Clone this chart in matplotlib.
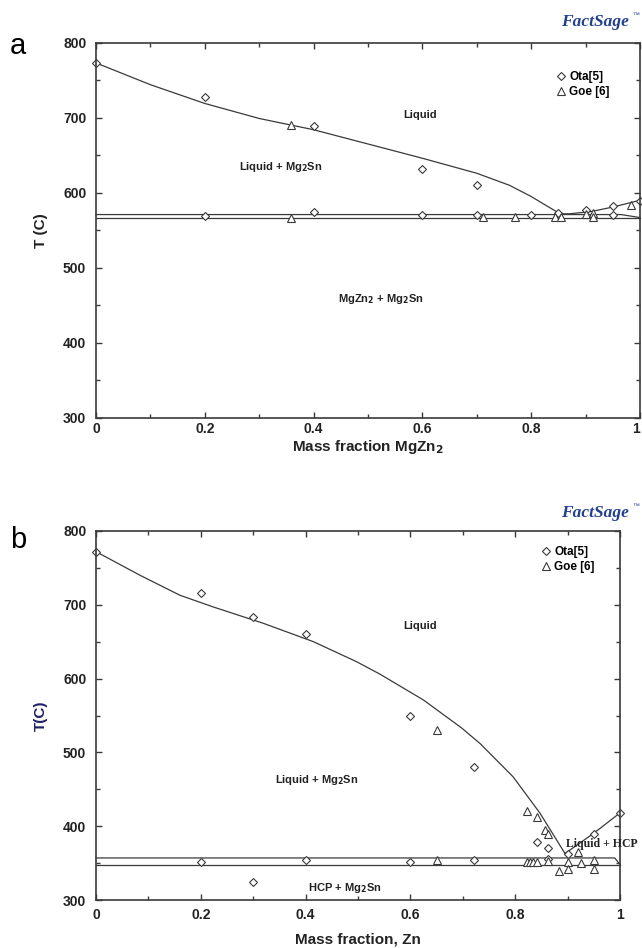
import matplotlib.pyplot as plt
from matplotlib.ticker import MultipleLocator
import numpy as np

# ---- (a) Mg2Sn - MgZn2 section ----
a_liq_left_x = [0, 0.1, 0.2, 0.3, 0.36, 0.4, 0.5, 0.6, 0.7, 0.76, 0.8, 0.853]
a_liq_left_T = [773, 744, 719, 699, 690, 684, 665, 646, 626, 610, 595, 572]
a_liq_right_x = [0.853, 0.87, 0.91, 0.95, 1.0]
a_liq_right_T = [572, 572, 575, 581, 590]
a_sol_upper_x = [0, 0.965, 1.0]
a_sol_upper_T = [571, 571, 567]
a_sol_lower_x = [0, 1.0]
a_sol_lower_T = [567, 567]

a_ota_x = [0, 0.2, 0.4, 0.6, 0.7, 0.849, 0.90, 0.951, 1.0,
           0.2, 0.4, 0.6, 0.701, 0.799, 0.951]
a_ota_T = [773, 727, 689, 632, 611, 573, 577, 583, 589,
           569, 574, 570, 571, 571, 571]
a_goe_x = [0.358, 0.358, 0.711, 0.770, 0.844, 0.854, 0.900, 0.914, 0.914, 0.983]
a_goe_T = [690, 567, 568, 568, 568, 568, 572, 573, 568, 584]

# ---- (b) Mg2Sn - Zn section ----
b_liq_left_x = [0, 0.084, 0.16, 0.224, 0.319, 0.415, 0.497, 0.542, 0.625,
                0.698, 0.733, 0.796, 0.847, 0.889, 0.895]
b_liq_left_T = [772, 740, 713, 697, 675, 650, 623, 606, 571,
                533, 512, 467, 418, 370, 363]
b_liq_right_x = [0.895, 0.949, 1.0]
b_liq_right_T = [363, 390, 418]
b_sol_upper_x = [0, 0.99, 1.0]
b_sol_upper_T = [357, 357, 348]
b_sol_lower_x = [0, 1.0]
b_sol_lower_T = [347, 347]

b_ota_x = [0, 0.2, 0.3, 0.4, 0.6, 0.722, 0.841, 0.862, 0.901, 0.951, 1.0,
           0.2, 0.3, 0.4, 0.6, 0.722, 0.862]
b_ota_T = [772, 716, 684, 661, 550, 480, 378, 370, 362, 389, 418,
           352, 324, 354, 352, 354, 356]
b_goe_x = [0.651, 0.651, 0.822, 0.842, 0.857, 0.863, 0.822, 0.829, 0.834,
           0.841, 0.862, 0.884, 0.901, 0.901, 0.920, 0.926, 0.951, 0.951]
b_goe_T = [531, 354, 420, 413, 395, 390, 351, 352, 351,
           351, 353, 340, 352, 342, 365, 350, 354, 342]

xticks = [0, 0.2, 0.4, 0.6, 0.8, 1]
xtick_labels = ["0", "0.2", "0.4", "0.6", "0.8", "1"]

plt.rcParams['font.family'] = ['Liberation Sans', 'DejaVu Sans']
line_c = '#3a3a3a'
txt_c = '#222222'

fig = plt.figure(figsize=(6.42, 9.48), dpi=100)
ax_a = fig.add_axes([0.1495, 0.5591, 0.8474, 0.3959])
ax_b = fig.add_axes([0.1495, 0.0506, 0.8162, 0.3893])


def style_axes(ax, xpad, ylabel, ylabel_color, xlabel, xlabelpad):
    ax.set_xlim(0, 1)
    ax.set_ylim(300, 800)
    ax.set_xticks(xticks)
    ax.set_xticklabels(xtick_labels)
    ax.xaxis.set_minor_locator(MultipleLocator(0.1))
    ax.yaxis.set_major_locator(MultipleLocator(100))
    ax.yaxis.set_minor_locator(MultipleLocator(50))
    ax.tick_params(which='both', direction='in', top=True, right=True,
                   color=line_c, width=1)
    ax.tick_params(which='major', length=4)
    ax.tick_params(which='minor', length=3)
    ax.tick_params(axis='x', pad=xpad)
    ax.tick_params(axis='y', pad=7)
    for lab in ax.get_xticklabels() + ax.get_yticklabels():
        lab.set_fontsize(10)
        lab.set_fontweight('bold')
        lab.set_color(txt_c)
    for s in ax.spines.values():
        s.set_color(line_c)
        s.set_linewidth(1.2)
    ax.set_ylabel(ylabel, fontsize=11, fontweight='bold', color=ylabel_color,
                  labelpad=11)
    ax.set_xlabel(xlabel, fontsize=11, fontweight='bold', color=txt_c,
                  labelpad=xlabelpad)


def draw_data(ax, liq_l, liq_r, sol_u, sol_l, ota, goe):
    for xs, ts in (liq_l, liq_r, sol_u, sol_l):
        ax.plot(xs, ts, color=line_c, lw=0.9, clip_on=False)
    ax.plot(ota[0], ota[1], 'D', ms=4, mfc='white', mec=line_c, mew=0.8,
            ls='none', label='Ota[5]', clip_on=False)
    ax.plot(goe[0], goe[1], '^', ms=5.5, mfc='white', mec=line_c, mew=0.8,
            ls='none', label='Goe [6]', clip_on=False)


# panel a
draw_data(ax_a, (a_liq_left_x, a_liq_left_T), (a_liq_right_x, a_liq_right_T),
          (a_sol_upper_x, a_sol_upper_T), (a_sol_lower_x, a_sol_lower_T),
          (a_ota_x, a_ota_T), (a_goe_x, a_goe_T))
style_axes(ax_a, 3, 'T (C)', txt_c, r'Mass fraction MgZn$_\mathbf{2}$', 1)
# last tick label sits against the figure edge
ax_a.get_xticklabels()[-1].set_horizontalalignment('right')
ax_a.legend(loc='upper left', bbox_to_anchor=(0.846, 0.925), frameon=False,
            handlelength=0.8, handletextpad=0.3, labelspacing=0.25,
            borderpad=0, borderaxespad=0,
            prop={'size': 8.5, 'weight': 'bold'})
lab_kw = dict(fontsize=8, fontweight='bold', color=txt_c, ha='center', va='center')
ax_a.text(0.596, 704, 'Liquid', **lab_kw)
ax_a.text(0.34, 635, r'Liquid + Mg$_\mathbf{2}$Sn', **lab_kw)
ax_a.text(0.524, 458, r'MgZn$_\mathbf{2}$ + Mg$_\mathbf{2}$Sn', **lab_kw)

# panel b
draw_data(ax_b, (b_liq_left_x, b_liq_left_T), (b_liq_right_x, b_liq_right_T),
          (b_sol_upper_x, b_sol_upper_T), (b_sol_lower_x, b_sol_lower_T),
          (b_ota_x, b_ota_T), (b_goe_x, b_goe_T))
style_axes(ax_b, 6, 'T(C)', '#1e1f66', 'Mass fraction, Zn', 7)
ax_b.legend(loc='upper left', bbox_to_anchor=(0.85, 0.96), frameon=False,
            handlelength=0.8, handletextpad=0.3, labelspacing=0.25,
            borderpad=0, borderaxespad=0,
            prop={'size': 8.5, 'weight': 'bold'})
ax_b.text(0.618, 671, 'Liquid', **lab_kw)
ax_b.text(0.421, 463, r'Liquid + Mg$_\mathbf{2}$Sn', **lab_kw)
ax_b.text(0.474, 316, r'HCP + Mg$_\mathbf{2}$Sn', **lab_kw)
ax_b.text(0.966, 376, 'Liquid + HCP', fontsize=8.5, fontweight='bold',
          color=txt_c, ha='center', va='center', family='Liberation Serif',
          clip_on=False)

# panel letters
fig.text(0.028, 0.952, 'a', fontsize=21, ha='center', va='center')
fig.text(0.028, 0.430, 'b', fontsize=21, ha='center', va='center')

# FactSage marks
for y in (0.977, 0.459):
    fig.text(0.927, y, 'FactSage', fontsize=12.5, fontweight='bold',
             fontstyle='italic', family='Liberation Serif', color='#23408e',
             ha='center', va='center')
    fig.text(0.991, y + 0.007, '\u2122', fontsize=5, color='#23408e',
             ha='center', va='center')

fig.savefig('out.png', dpi=100)
